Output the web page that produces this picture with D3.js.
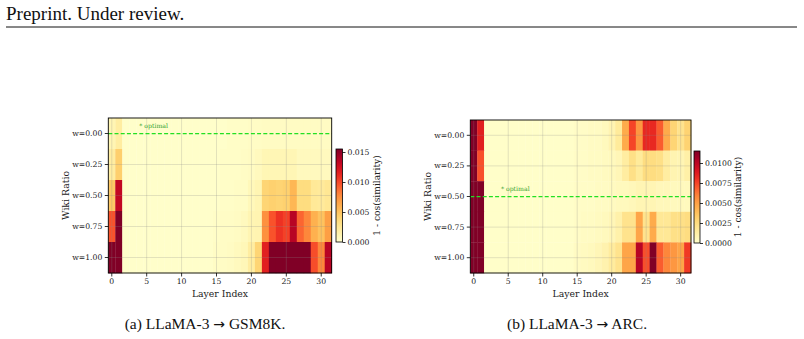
<!DOCTYPE html>
<html>
<head>
<meta charset="utf-8">
<script src="https://cdn.jsdelivr.net/npm/d3@7"></script>
<style>
  body { margin: 0; background: #fff; }
  svg { display: block; }
</style>
</head>
<body>
<svg id="fig" width="804" height="339"></svg>
<script>
// rows = wiki ratio, columns = layer index 0..31
var layers = d3.range(32);
var ratios = [0.00, 0.25, 0.50, 0.75, 1.00];
var xTicks = [0, 5, 10, 15, 20, 25, 30];

// (a) LLaMA-3 -> GSM8K, 1 - cos(similarity)
var gsm_w000 = [0.0011, 0.0019, 0.0001, 0.0001, 0.0001, 0.0001, 0.0001, 0.0001, 0.0001, 0.0001, 0.0001, 0.0001, 0.0001, 0.0001, 0.0001, 0.0001,
    0.0001, 0.0002, 0.0002, 0.0002, 0.0003, 0.0003, 0.0004, 0.0004, 0.0004, 0.0004, 0.0004, 0.0004, 0.0004, 0.0004, 0.0004, 0.0004];
var gsm_w025 = [0.0019, 0.0043, 0.0001, 0.0001, 0.0001, 0.0001, 0.0001, 0.0001, 0.0001, 0.0001, 0.0001, 0.0001, 0.0001, 0.0001, 0.0001, 0.0001,
    0.0002, 0.0002, 0.0002, 0.0003, 0.0004, 0.0006, 0.0010, 0.0010, 0.0010, 0.0010, 0.0010, 0.0006, 0.0006, 0.0006, 0.0006, 0.0006];
var gsm_w050 = [0.0047, 0.0132, 0.0001, 0.0001, 0.0001, 0.0001, 0.0001, 0.0001, 0.0001, 0.0001, 0.0001, 0.0001, 0.0001, 0.0001, 0.0001, 0.0001,
    0.0002, 0.0002, 0.0003, 0.0003, 0.0008, 0.0011, 0.0039, 0.0042, 0.0040, 0.0042, 0.0056, 0.0034, 0.0034, 0.0023, 0.0022, 0.0025];
var gsm_w075 = [0.0096, 0.0160, 0.0001, 0.0001, 0.0001, 0.0001, 0.0001, 0.0001, 0.0001, 0.0001, 0.0001, 0.0001, 0.0001, 0.0001, 0.0001, 0.0002,
    0.0003, 0.0003, 0.0004, 0.0006, 0.0011, 0.0012, 0.0074, 0.0096, 0.0108, 0.0102, 0.0136, 0.0090, 0.0078, 0.0059, 0.0050, 0.0068];
var gsm_w100 = [0.0165, 0.0170, 0.0001, 0.0001, 0.0001, 0.0001, 0.0001, 0.0001, 0.0001, 0.0001, 0.0001, 0.0001, 0.0001, 0.0001, 0.0001, 0.0003,
    0.0003, 0.0004, 0.0006, 0.0009, 0.0019, 0.0039, 0.0116, 0.0170, 0.0180, 0.0175, 0.0172, 0.0178, 0.0168, 0.0098, 0.0078, 0.0136];

// (b) LLaMA-3 -> ARC
var arc_w000 = [0.0125, 0.0086, 0.0001, 0.0001, 0.0001, 0.0001, 0.0001, 0.0001, 0.0001, 0.0001, 0.0001, 0.0001, 0.0001, 0.0001, 0.0001, 0.0002,
    0.0002, 0.0003, 0.0003, 0.0005, 0.0009, 0.0016, 0.0046, 0.0075, 0.0053, 0.0083, 0.0083, 0.0069, 0.0046, 0.0029, 0.0021, 0.0030];
var arc_w025 = [0.0125, 0.0072, 0.0001, 0.0001, 0.0001, 0.0001, 0.0001, 0.0001, 0.0001, 0.0001, 0.0001, 0.0001, 0.0001, 0.0001, 0.0001, 0.0002,
    0.0002, 0.0003, 0.0003, 0.0004, 0.0005, 0.0007, 0.0014, 0.0023, 0.0016, 0.0025, 0.0025, 0.0023, 0.0014, 0.0009, 0.0008, 0.0012];
var arc_w050 = [0.0125, 0.0120, 0.0001, 0.0001, 0.0001, 0.0001, 0.0001, 0.0001, 0.0001, 0.0001, 0.0001, 0.0001, 0.0001, 0.0001, 0.0001, 0.0002,
    0.0002, 0.0002, 0.0003, 0.0003, 0.0004, 0.0005, 0.0005, 0.0006, 0.0008, 0.0008, 0.0008, 0.0006, 0.0006, 0.0005, 0.0005, 0.0005];
var arc_w075 = [0.0125, 0.0120, 0.0001, 0.0001, 0.0001, 0.0001, 0.0001, 0.0001, 0.0001, 0.0001, 0.0001, 0.0001, 0.0001, 0.0001, 0.0001, 0.0002,
    0.0003, 0.0003, 0.0004, 0.0005, 0.0007, 0.0011, 0.0021, 0.0021, 0.0048, 0.0021, 0.0046, 0.0018, 0.0018, 0.0023, 0.0023, 0.0025];
var arc_w100 = [0.0125, 0.0120, 0.0001, 0.0001, 0.0001, 0.0001, 0.0001, 0.0001, 0.0001, 0.0001, 0.0001, 0.0001, 0.0001, 0.0001, 0.0001, 0.0003,
    0.0004, 0.0005, 0.0007, 0.0010, 0.0015, 0.0021, 0.0048, 0.0048, 0.0101, 0.0072, 0.0120, 0.0069, 0.0058, 0.0053, 0.0048, 0.0078];

var gsmRows = [gsm_w000, gsm_w025, gsm_w050, gsm_w075, gsm_w100];
var arcRows = [arc_w000, arc_w025, arc_w050, arc_w075, arc_w100];

var gsmTicks = [0, 0.005, 0.010, 0.015];
var arcTicks = [0, 0.0025, 0.0050, 0.0075, 0.0100];

var svg = d3.select("#fig");
var serif = "'DejaVu Serif', serif";
var times = "'Liberation Serif', 'Times New Roman', serif";

svg.append("rect").attr("width", 804).attr("height", 339).attr("fill", "#fff");

// page header
svg.append("text").attr("x", 6).attr("y", 20)
    .attr("font-family", times).attr("font-size", 19)
    .attr("fill", "#111").text("Preprint. Under review.");
svg.append("line").attr("x1", 6).attr("x2", 797).attr("y1", 27).attr("y2", 27)
    .attr("stroke", "#111").attr("stroke-width", 1);

function drawHeatmap(p) {
    var x = d3.scaleBand().domain(layers).range([p.x0, p.x1]).padding(0);
    var y = d3.scaleBand().domain(ratios).range([p.y0, p.y1]).padding(0);
    var color = d3.scaleSequential(d3.interpolateYlOrRd).domain([0, p.vmax]).clamp(true);

    var g = svg.append("g");

    var cells = [];
    p.rows.forEach(function (row, i) {
        row.forEach(function (v, j) {
            cells.push({ r: ratios[i], l: layers[j], v: v });
        });
    });

    g.selectAll("rect.cell").data(cells).enter().append("rect")
        .attr("class", "cell")
        .attr("x", function (d) { return x(d.l); })
        .attr("y", function (d) { return y(d.r); })
        .attr("width", x.bandwidth() + 0.3)
        .attr("height", y.bandwidth() + 0.3)
        .attr("fill", function (d) { return color(d.v); });

    // grid
    g.selectAll("line.gx").data(xTicks).enter().append("line")
        .attr("class", "gx")
        .attr("x1", function (d) { return x(d) + x.bandwidth() / 2; })
        .attr("x2", function (d) { return x(d) + x.bandwidth() / 2; })
        .attr("y1", p.y0).attr("y2", p.y1)
        .attr("stroke", "#888").attr("stroke-opacity", 0.3).attr("stroke-width", 0.8);
    g.selectAll("line.gy").data(ratios.filter(function (r) { return r !== p.optimal; }))
        .enter().append("line")
        .attr("class", "gy")
        .attr("y1", function (d) { return y(d) + y.bandwidth() / 2; })
        .attr("y2", function (d) { return y(d) + y.bandwidth() / 2; })
        .attr("x1", p.x0).attr("x2", p.x1)
        .attr("stroke", "#888").attr("stroke-opacity", 0.3).attr("stroke-width", 0.8);

    // optimal line
    var oy = y(p.optimal) + y.bandwidth() / 2;
    g.append("line").attr("x1", p.x0).attr("x2", p.x1).attr("y1", oy).attr("y2", oy)
        .attr("stroke", "#22e022").attr("stroke-width", 1.25).attr("stroke-dasharray", "4,2.2");
    g.append("text").attr("x", x(4) + 3).attr("y", oy - 5.5)
        .attr("font-family", serif).attr("font-size", 6.2)
        .attr("fill", "#2f9e2f").text("* optimal");

    g.append("rect").attr("x", p.x0).attr("y", p.y0)
        .attr("width", p.x1 - p.x0).attr("height", p.y1 - p.y0)
        .attr("fill", "none").attr("stroke", "#000").attr("stroke-width", 0.9);

    var xa = g.append("g").attr("transform", "translate(0," + p.y1 + ")")
        .call(d3.axisBottom(x).tickValues(xTicks).tickSize(3.5).tickPadding(2));
    var ya = g.append("g").attr("transform", "translate(" + p.x0 + ",0)")
        .call(d3.axisLeft(y).tickSize(3.5).tickPadding(2.5)
            .tickFormat(function (d) { return "w=" + d.toFixed(2); }));
    [xa, ya].forEach(function (a) {
        a.select(".domain").remove();
        a.selectAll("text").attr("font-family", serif).attr("font-size", 7.7).attr("fill", "#222");
        a.selectAll("line").attr("stroke", "#000").attr("stroke-width", 0.8);
    });

    g.append("text").attr("x", (p.x0 + p.x1) / 2).attr("y", 296.5)
        .attr("text-anchor", "middle").attr("font-family", serif).attr("font-size", 9.3)
        .attr("fill", "#222").text("Layer Index");
    g.append("text")
        .attr("transform", "translate(" + (p.ylabX) + "," + ((p.y0 + p.y1) / 2) + ") rotate(-90)")
        .attr("text-anchor", "middle").attr("dy", "0.35em")
        .attr("font-family", serif).attr("font-size", 9.3)
        .attr("fill", "#222").text("Wiki Ratio");

    // colorbar
    var cb = p.cb;
    var cy = d3.scaleLinear().domain([0, p.vmax]).range([cb.y1, cb.y0]);
    var gid = "grad" + p.id;
    var grad = svg.append("defs").append("linearGradient").attr("id", gid)
        .attr("x1", 0).attr("y1", 1).attr("x2", 0).attr("y2", 0);
    d3.range(0, 1.0001, 0.05).forEach(function (t) {
        grad.append("stop").attr("offset", t).attr("stop-color", d3.interpolateYlOrRd(t));
    });
    g.append("rect").attr("x", cb.x).attr("y", cb.y0)
        .attr("width", cb.w).attr("height", cb.y1 - cb.y0)
        .attr("fill", "url(#" + gid + ")").attr("stroke", "#000").attr("stroke-width", 0.8);
    var ca = g.append("g").attr("transform", "translate(" + (cb.x + cb.w) + ",0)")
        .call(d3.axisRight(cy).tickValues(p.ticks).tickSize(3).tickPadding(2)
            .tickFormat(d3.format(p.fmt)));
    ca.select(".domain").remove();
    ca.selectAll("text").attr("font-family", serif).attr("font-size", 7.7).attr("fill", "#222");
    ca.selectAll("line").attr("stroke", "#000").attr("stroke-width", 0.8);
    g.append("text")
        .attr("transform", "translate(" + cb.labX + "," + ((cb.y0 + cb.y1) / 2) + ") rotate(-90)")
        .attr("text-anchor", "middle").attr("dy", "0.35em")
        .attr("font-family", serif).attr("font-size", 9.1)
        .attr("fill", "#222").text("1 - cos(similarity)");

    // caption: "(x) LLaMA-3 -> TASK." with a math-style arrow
    var cap = svg.append("text").attr("x", p.capX).attr("y", 329)
        .attr("text-anchor", "middle").attr("font-family", times).attr("font-size", 15.5)
        .attr("fill", "#111");
    cap.append("tspan").text(p.caption[0] + " ");
    cap.append("tspan").attr("font-family", "'DejaVu Sans', sans-serif").attr("font-size", 14)
        .text("\u2192");
    cap.append("tspan").text(" " + p.caption[1]);
}

drawHeatmap({
    id: "a", rows: gsmRows, vmax: 0.0155, optimal: 0.00,
    x0: 108.3, x1: 331.7, y0: 118, y1: 273, ylabX: 66,
    cb: { x: 336, w: 6.5, y0: 149, y1: 242, labX: 377 },
    ticks: gsmTicks, fmt: ".3f",
    caption: ["(a) LLaMA-3", "GSM8K."], capX: 205
});
drawHeatmap({
    id: "b", rows: arcRows, vmax: 0.0115, optimal: 0.50,
    x0: 470.3, x1: 691, y0: 120, y1: 273, ylabX: 428,
    cb: { x: 694, w: 6, y0: 151, y1: 243, labX: 738 },
    ticks: arcTicks, fmt: ".4f",
    caption: ["(b) LLaMA-3", "ARC."], capX: 577
});
</script>
</body>
</html>
